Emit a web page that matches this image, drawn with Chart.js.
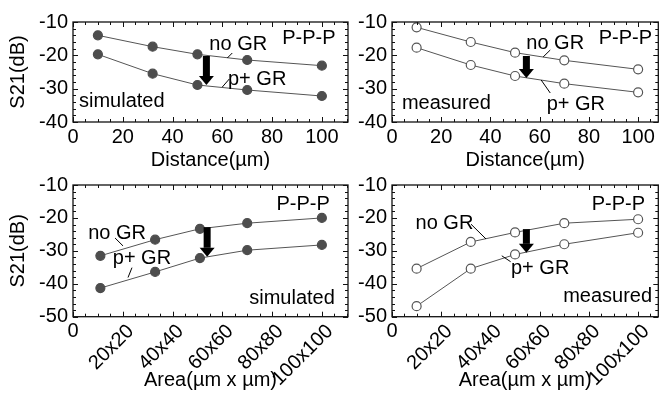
<!DOCTYPE html>
<html>
<head>
<meta charset="utf-8">
<script src="https://cdn.jsdelivr.net/npm/chart.js@4.4.1/dist/chart.umd.min.js"></script>
<style>
  html, body { margin: 0; padding: 0; background: #fff; }
  #wrap { position: relative; width: 664px; height: 395px; overflow: hidden; }
  canvas { position: absolute; }
</style>
</head>
<body>
<div id="wrap">
  <canvas id="c1" width="358" height="175" style="left:0;top:0;width:358px;height:175px"></canvas>
  <canvas id="c2" width="306" height="175" style="left:358px;top:0;width:306px;height:175px"></canvas>
  <canvas id="c3" width="358" height="227" style="left:0;top:168px;width:358px;height:227px"></canvas>
  <canvas id="c4" width="306" height="227" style="left:358px;top:168px;width:306px;height:227px"></canvas>
</div>
<script>
const FONT = "'Liberation Sans', Arial, sans-serif";
const FS = 20;

// --- data ---
// (a) top: S21 vs distance, simulated
const distSim = [10, 32, 50, 70, 100];
const simDistNoGR = [-14.0, -17.4, -19.7, -21.4, -23.1];
const simDistPGR = [-19.7, -25.5, -28.9, -30.4, -32.2];
// (b) top: S21 vs distance, measured
const distMeas = [10, 32, 50, 70, 100];
const measDistNoGR = [-11.6, -16.0, -19.2, -21.5, -24.2];
const measDistPGR = [-17.7, -22.9, -26.2, -28.5, -31.1];
// (a) bottom: S21 vs area, simulated
const areaSim = [11, 33, 51, 70, 100];
const simAreaNoGR = [-31.5, -26.6, -23.3, -21.6, -20.0];
const simAreaPGR = [-41.3, -36.4, -32.2, -29.8, -28.2];
// (b) bottom: S21 vs area, measured
const areaMeas = [10, 32, 50, 70, 100];
const measAreaNoGR = [-35.4, -27.3, -24.4, -21.6, -20.4];
const measAreaPGR = [-46.8, -35.4, -31.1, -28.0, -24.5];

// tick labels
const distTicks = [0, 20, 40, 60, 80, 100];
const areaTicks = [0, 20, 40, 60, 80, 100];
const areaLabels = ['0', '20x20', '40x40', '60x60', '80x80', '100x100'];

function pts(xs, ys) {
    return xs.map((x, i) => ({ x: x, y: ys[i] }));
}

// panel layouts + annotations (annotation positions in data units)
const panels = [
    { id: 'c1', xs: distSim, noGR: simDistNoGR, pGR: simDistPGR, filled: true, area: false,
      xMax: 110.5, yMin: -40, padTop: 22, padRight: 10, yW: 73, xH: 53, yTitle: true,
      ppp: [94.8, -14.8], noTxt: [66.4, -16.6], noLead: [64, -19.3, 62, -20.8],
      pTxt: [74, -27.1], pLead: [62.8, -27.1, 60, -29.5], arrow: [53.6, -20.2, -28.9],
      tag: 'simulated', tagAt: [19.6, -33.7] },
    { id: 'c2', xs: distMeas, noGR: measDistNoGR, pGR: measDistPGR, filled: false, area: false,
      xMax: 108.2, yMin: -40, padTop: 22, padRight: 3, yW: 34, xH: 53, yTitle: false,
      ppp: [94.8, -14.8], noTxt: [66.3, -16.3], noLead: [64.3, -18.4, 61.4, -20.5],
      pTxt: [74.7, -34.6], pLead: [60.6, -27.4, 64.3, -31.3], arrow: [54.6, -20.2, -26.8],
      tag: 'measured', tagAt: [22.1, -34.3] },
    { id: 'c3', xs: areaSim, noGR: simAreaNoGR, pGR: simAreaPGR, filled: true, area: true,
      xMax: 110.5, yMin: -50, padTop: 15.3, padRight: 10, yW: 73, xH: 78.3, yTitle: true,
      ppp: [92.5, -15.9], noTxt: [17.7, -24.6], noLead: [16.9, -26.1, 20.1, -28.5],
      pTxt: [27.7, -32.4], pLead: [23.7, -35.1, 22.1, -38.1], arrow: [53.9, -22.8, -31.8],
      tag: 'simulated', tagAt: [88, -44.4] },
    { id: 'c4', xs: areaMeas, noGR: measAreaNoGR, pGR: measAreaPGR, filled: false, area: true,
      xMax: 108.2, yMin: -50, padTop: 15.3, padRight: 3, yW: 34, xH: 78.3, yTitle: false,
      ppp: [92, -15.9], noTxt: [21.3, -21.6], noLead: [32.1, -21.9, 38.2, -26.4],
      pTxt: [60.2, -35.4], pLead: [48.2, -33.3, 44.6, -31.5], arrow: [54.6, -23.4, -30.6],
      tag: 'measured', tagAt: [87.6, -43.8] }
];

function lineStyle(filled) {
    return {
        showLine: true,
        borderColor: '#555',
        borderWidth: 1,
        pointRadius: 4.5,
        pointBackgroundColor: filled ? '#4d4d4d' : '#fff',
        pointBorderColor: filled ? '#4d4d4d' : '#555',
        pointBorderWidth: 1.2
    };
}

function framePlugin(p) {
    return {
        id: 'frame' + p.id,
        afterDatasetsDraw(chart) {
            const { ctx, scales: { x, y }, chartArea: a } = chart;
            const X = v => x.getPixelForValue(v);
            const Y = v => y.getPixelForValue(v);
            ctx.save();
            ctx.fillStyle = '#000';
            ctx.strokeStyle = '#000';
            ctx.lineWidth = 1;
            ctx.font = FS + 'px ' + FONT;
            ctx.textAlign = 'center';
            ctx.textBaseline = 'middle';
            ctx.fillText('P-P-P', X(p.ppp[0]), Y(p.ppp[1]));
            ctx.fillText('no GR', X(p.noTxt[0]), Y(p.noTxt[1]));
            ctx.fillText('p+ GR', X(p.pTxt[0]), Y(p.pTxt[1]));
            ctx.fillText(p.tag, X(p.tagAt[0]), Y(p.tagAt[1]));
            if (p.area) {
                ctx.fillText('0', X(0), a.bottom + 15);
            }
            [p.noLead, p.pLead].forEach(l => {
                ctx.beginPath();
                ctx.moveTo(X(l[0]), Y(l[1]));
                ctx.lineTo(X(l[2]), Y(l[3]));
                ctx.stroke();
            });
            // big arrow
            const ax = X(p.arrow[0]), y1 = Y(p.arrow[1]), y2 = Y(p.arrow[2]);
            const head = 9;
            ctx.fillRect(ax - 3.5, y1, 7, y2 - y1 - head);
            ctx.beginPath();
            ctx.moveTo(ax - 7.5, y2 - head);
            ctx.lineTo(ax + 7.5, y2 - head);
            ctx.lineTo(ax, y2);
            ctx.closePath();
            ctx.fill();
            ctx.restore();
        },
        afterDraw(chart) {
            const { ctx, scales: { x, y }, chartArea: a } = chart;
            ctx.save();
            ctx.strokeStyle = '#111';
            ctx.lineWidth = 1.3;
            ctx.strokeRect(a.left, a.top, a.right - a.left, a.bottom - a.top);
            ctx.lineWidth = 1;
            ctx.beginPath();
            for (let v = 0; v <= x.max; v += 5) {
                const px = Math.round(x.getPixelForValue(v)) + 0.5;
                const len = v % 20 === 0 ? 5 : 3;
                ctx.moveTo(px, a.bottom); ctx.lineTo(px, a.bottom - len);
                ctx.moveTo(px, a.top); ctx.lineTo(px, a.top + len);
            }
            for (let v = y.min; v <= y.max; v += 2) {
                const py = Math.round(y.getPixelForValue(v)) + 0.5;
                const len = v % 10 === 0 ? 5 : 3;
                ctx.moveTo(a.left, py); ctx.lineTo(a.left + len, py);
                ctx.moveTo(a.right, py); ctx.lineTo(a.right - len, py);
            }
            ctx.stroke();
            ctx.restore();
        }
    };
}

function makeChart(p) {
    const tickVals = p.area ? areaTicks : distTicks;
    new Chart(document.getElementById(p.id), {
        type: 'scatter',
        data: {
            datasets: [
                Object.assign({ label: 'no GR', data: pts(p.xs, p.noGR) }, lineStyle(p.filled)),
                Object.assign({ label: 'p+ GR', data: pts(p.xs, p.pGR) }, lineStyle(p.filled))
            ]
        },
        options: {
            responsive: false,
            animation: false,
            devicePixelRatio: 1,
            layout: { padding: { left: 0, top: p.padTop, right: p.padRight, bottom: 0 } },
            plugins: { legend: { display: false }, tooltip: { enabled: false } },
            scales: {
                x: {
                    type: 'linear',
                    min: 0,
                    max: p.xMax,
                    grid: { display: false, drawTicks: false },
                    border: { display: false },
                    afterBuildTicks: s => { s.ticks = tickVals.map(v => ({ value: v })); },
                    afterFit: s => { s.height = p.xH; },
                    ticks: {
                        color: '#000',
                        font: { family: FONT, size: FS },
                        padding: 3,
                        autoSkip: false,
                        labelOffset: p.area ? 8 : 0,
                        minRotation: p.area ? 45 : 0,
                        maxRotation: p.area ? 45 : 0,
                        callback: v => p.area ? (v === 0 ? '' : areaLabels[areaTicks.indexOf(v)]) : String(v)
                    },
                    title: {
                        display: true,
                        text: p.area ? 'Area(\u00b5m x \u00b5m)' : 'Distance(\u00b5m)',
                        color: '#000',
                        font: { family: FONT, size: FS, lineHeight: 1.2 },
                        padding: { top: 0, bottom: 3 }
                    }
                },
                y: {
                    type: 'linear',
                    min: p.yMin,
                    max: -10,
                    grid: { display: false, drawTicks: false },
                    border: { display: false },
                    afterFit: s => { s.width = p.yW; },
                    ticks: {
                        stepSize: 10,
                        color: '#000',
                        font: { family: FONT, size: FS },
                        padding: 5
                    },
                    title: {
                        display: p.yTitle,
                        text: 'S21(dB)',
                        color: '#000',
                        font: { family: FONT, size: FS, lineHeight: 1.2 },
                        padding: { top: 6, bottom: 0 }
                    }
                }
            }
        },
        plugins: [framePlugin(p)]
    });
}

panels.forEach(makeChart);
</script>
</body>
</html>
